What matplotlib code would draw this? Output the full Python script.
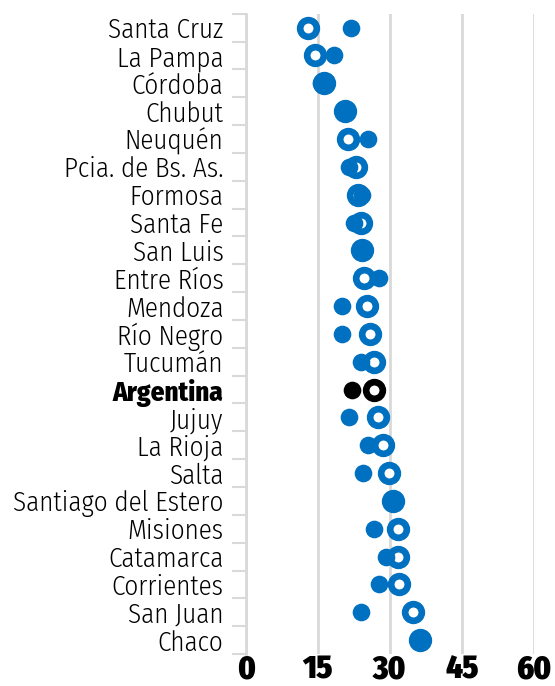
import numpy as np
import matplotlib
matplotlib.use("Agg")
import matplotlib.pyplot as plt

BLUE = "#0070C0"
GRID = "#D9D9D9"

provinces = ["Santa Cruz", "La Pampa", "Córdoba", "Chubut", "Neuquén",
             "Pcia. de Bs. As.", "Formosa", "Santa Fe", "San Luis",
             "Entre Ríos", "Mendoza", "Río Negro", "Tucumán", "Argentina",
             "Jujuy", "La Rioja", "Salta", "Santiago del Estero",
             "Misiones", "Catamarca", "Corrientes", "San Juan", "Chaco"]

# open ring series
ring_vals = [13.0, 14.4, 16.2, 20.7, 21.2, 23.0, 23.3, 24.0, 24.1,
             24.6, 25.2, 25.8, 26.6, 26.7, 27.6, 28.5, 29.9, 30.7,
             31.6, 31.6, 31.8, 34.9, 36.3]
# filled dot series
dot_vals = [21.9, 18.4, 15.6, 20.3, 25.5, 21.5, 24.3, 22.6, 24.1,
            27.8, 20.0, 20.0, 24.0, 22.1, 21.6, 25.5, 24.4, 30.7,
            26.6, 29.1, 27.7, 24.0, 36.3]

xticks = [0, 15, 30, 45, 60]

plt.rcParams["font.family"] = ["Fira Sans Condensed", "DejaVu Sans"]

fig = plt.figure(figsize=(5.55, 6.86), dpi=100)
ax = fig.add_axes([0.4427, 0.0466, 0.5195, 0.9334])

y = np.arange(len(provinces))
for i, name in enumerate(provinces):
    col = "black" if name == "Argentina" else BLUE
    ax.plot(ring_vals[i], y[i], marker="o", ms=12, mew=4.8, mec=col,
            mfc="white", ls="none", zorder=3)
    ax.plot(dot_vals[i], y[i], marker="o", ms=12.7, mew=0, mfc=col,
            ls="none", zorder=4)

ax.set_xlim(0, 60)
ax.set_ylim(len(provinces) - 0.5, -0.5)
ax.set_xticks(xticks)
ax.set_xticklabels([str(t) for t in xticks], fontsize=23, fontweight=900)
ax.tick_params(axis="x", length=0, pad=0)
ax.set_yticks(y)
ax.set_yticklabels(provinces, fontsize=19.5, fontweight=300)
ax.set_yticks(np.arange(-0.5, len(provinces), 1), minor=True)
ax.tick_params(axis="y", which="major", length=0, pad=16)
ax.tick_params(axis="y", which="minor", length=10, width=1.5, color=GRID)
for lbl in ax.get_yticklabels():
    if lbl.get_text() == "Argentina":
        lbl.set_fontweight(800)

ax.grid(axis="x", color=GRID, lw=2)
ax.set_axisbelow(True)
for s in ["top", "right", "bottom"]:
    ax.spines[s].set_visible(False)
ax.spines["left"].set_color(GRID)
ax.spines["left"].set_linewidth(2)

fig.savefig("out.png", dpi=100)
